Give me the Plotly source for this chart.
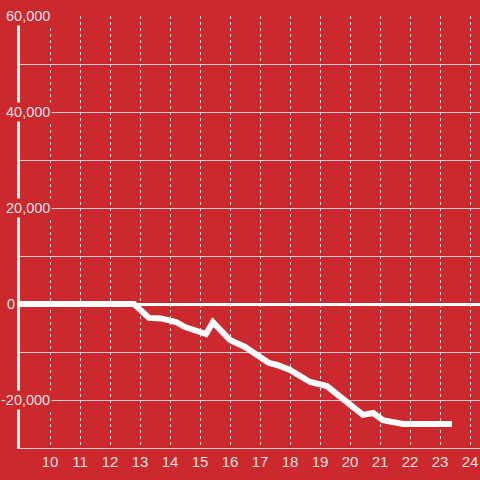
import plotly.graph_objects as go

# data
hours = [9.0, 12.8, 13.3, 13.7, 14.2, 14.5, 15.2, 15.43, 16.0, 16.5, 17.3, 17.57,
         18.0, 18.67, 19.23, 19.67, 20.43, 20.77, 21.1, 21.77, 23.4]
values = [0, 0, -2900, -3000, -3750, -4800, -6250, -3800, -7500, -8950, -12300, -12700,
          -13750, -16250, -17100, -19400, -23100, -22700, -24200, -25000, -25000]
x_ticks = list(range(10, 25))
y_label_vals = [60000, 40000, 20000, 0, -20000]
y_label_text = ["60,000", "40,000", "20,000", "0", "-20,000"]

BG = "#cc292e"
TXT = "rgba(255,255,255,0.88)"
FONT = "Liberation Sans, Arial, sans-serif"

fig = go.Figure()
fig.add_trace(go.Scatter(
    x=hours, y=values, mode="lines",
    line=dict(color="white", width=6),
    hoverinfo="skip", showlegend=False,
))

annotations = []
for v, t in zip(y_label_vals, y_label_text):
    xpos = -0.0065 if v == 0 else 0.0696
    annotations.append(dict(
        x=xpos, xref="paper", y=v, yref="y", text=t, showarrow=False,
        xanchor="right", yanchor="middle",
        font=dict(family=FONT, size=14.5, color=TXT),
        bgcolor=BG if v != 0 else "rgba(0,0,0,0)", borderpad=1,
    ))

fig.update_layout(
    width=480, height=480,
    margin=dict(l=20, r=0, t=16, b=32),
    paper_bgcolor=BG, plot_bgcolor=BG,
    font=dict(family=FONT, size=14, color=TXT),
    annotations=annotations,
    xaxis=dict(
        range=[9, 24.3333], tickvals=x_ticks, ticktext=[str(t) for t in x_ticks],
        showgrid=True, gridcolor="#e6e0e0", gridwidth=1, griddash="dot",
        showline=True, linecolor="#d8d0d0", linewidth=1,
        ticks="", zeroline=False,
        tickfont=dict(family=FONT, size=15, color=TXT),
    ),
    yaxis=dict(
        range=[-30000, 60000], dtick=10000, tick0=0,
        showgrid=True, gridcolor="#d8d0d0", gridwidth=1,
        showticklabels=False, ticks="",
        zeroline=True, zerolinecolor="white", zerolinewidth=3,
        showline=True, linecolor="#f2f2f2", linewidth=3,
    ),
)

fig.write_html(
    "out.html",
    config={"displayModeBar": False},
    post_script="document.body.style.margin='0';document.body.style.background='" + BG + "';",
)
